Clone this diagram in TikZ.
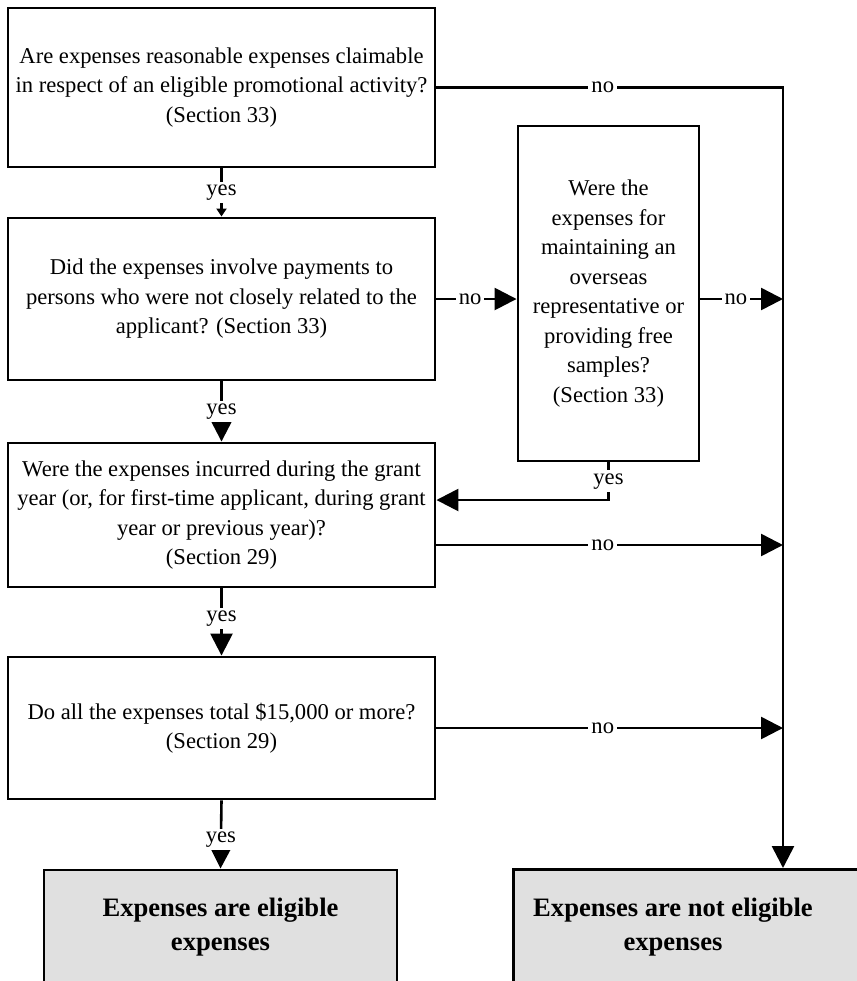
\documentclass[tikz,border=0pt]{standalone}
\usepackage{fontspec}
\setmainfont{Liberation Serif}
\usetikzlibrary{arrows.meta}

\definecolor{endgray}{RGB}{224,224,224}

\tikzset{
  qbox/.style={draw, line width=1.45pt, align=center, inner sep=0pt, font=\fontsize{11.3pt}{14.75pt}\selectfont},
  endbox/.style={draw, line width=1.45pt, fill=endgray, align=center, inner sep=0pt, font=\fontsize{13.3pt}{16.6pt}\selectfont\bfseries},
  endtext/.style={align=center, inner sep=0pt, font=\fontsize{13.3pt}{16.6pt}\selectfont\bfseries},
  flow/.style={line width=1.3pt, -{Triangle[length=11pt,width=11pt]}},
  smallflow/.style={line width=1.3pt, -{Triangle[length=4pt,width=5pt]}},
  lbl/.style={fill=white, inner sep=1.5pt, font=\fontsize{11.3pt}{14.75pt}\selectfont}
}

\begin{document}
\begin{tikzpicture}[x=0.5pt,y=-0.5pt]
                  \useasboundingbox (0,0) rectangle (857,981);
                  \clip (0,0) rectangle (857,981);
                  % question boxes down the left
                  \node [qbox, minimum width=213.5pt, minimum height=79.5pt] (q1) at (221.5,87.5) {Are expenses reasonable expenses claimable\\in respect of an eligible promotional activity?\\(Section 33)};
                  \node [qbox, minimum width=213.5pt, minimum height=81pt] (q2) at (221.5,299) {Did the expenses involve payments to\\persons who were not closely related to the\\applicant? (Section 33)};
                  \node [qbox, minimum width=213.5pt, minimum height=72pt] (q4) at (221.5,515) {Were the expenses incurred during the grant\\year (or, for first-time applicant, during grant\\year or previous year)?\\(Section 29)};
                  \node [qbox, minimum width=213.5pt, minimum height=71pt] (q5) at (221.5,728) {Do all the expenses total \$15,000 or more?\\(Section 29)};
                  % tall box in the middle
                  \node [qbox, minimum width=90.5pt, minimum height=167.5pt] (q3) at (608.5,293.5) {Were the\\expenses for\\maintaining an\\overseas\\representative or\\providing free\\samples?\\(Section 33)};
                  % end boxes
                  \node [endbox, minimum width=176.5pt, minimum height=57pt] (yes) at (220.5,927) {Expenses are eligible\\expenses};
                  \node [endbox, anchor=north west, minimum width=190pt, minimum height=60pt] (nope) at (512,868) {};
                  \node [endtext] (nopetext) at (673,927) {Expenses are not eligible\\expenses};
                  % rail on the right and corner points
                  \coordinate (rail) at (783,88);
                  \coordinate (back) at (608.5,500);
                  % yes arrows down
                  \draw [smallflow] (q1.south) -- node [lbl] {yes} (q2.north);
                  \draw [flow] (q2.south) -- node [lbl] {yes} (q4.north);
                  \draw [flow] (q4.south) -- node [lbl, pos=0.45] {yes} (q5.north);
                  \draw [flow] (q5.south) -- node [lbl, pos=0.57] {yes} (yes.north);
                  % yes back from the tall box
                  \draw [flow] (q3.south) -- node [lbl] {yes} (back) -- (back -| q4.east);
                  % no arrows to the right
                  \draw [flow] (q1.east) -- node [lbl, pos=0.48] {no} (q1.east -| rail) -- (rail |- nope.north);
                  \draw [flow] (q2.east) -- node [lbl, pos=0.42] {no} (q2.east -| q3.west);
                  \draw [flow] (q2.east -| q3.east) -- node [lbl, pos=0.43] {no} (q2.east -| rail);
                  \draw [flow] ([yshift=-15pt]q4.east) -- node [lbl, pos=0.48] {no} ([yshift=-15pt]q4.east -| rail);
                  \draw [flow] (q5.east) -- node [lbl, pos=0.48] {no} (q5.east -| rail);
\end{tikzpicture}
\end{document}
